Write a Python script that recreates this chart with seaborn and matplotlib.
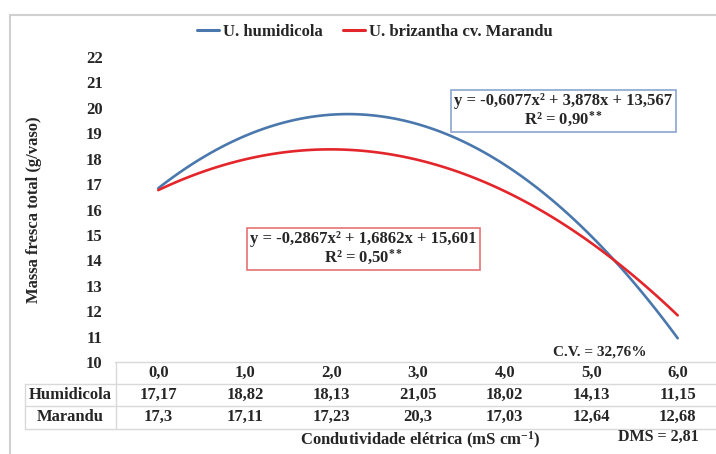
import matplotlib
matplotlib.use("Agg")
import matplotlib.pyplot as plt
import matplotlib.transforms as mtransforms
from matplotlib.lines import Line2D
import seaborn as sns
import numpy as np
import pandas as pd

# ---- data ----
conductivity = [0, 1, 2, 3, 4, 5, 6]
cond_labels = ["0,0", "1,0", "2,0", "3,0", "4,0", "5,0", "6,0"]
humidicola = [17.17, 18.82, 18.13, 21.05, 18.02, 14.13, 11.15]
marandu = [17.3, 17.11, 17.23, 20.3, 17.03, 12.64, 12.68]
humidicola_txt = ["17,17", "18,82", "18,13", "21,05", "18,02", "14,13", "11,15"]
marandu_txt = ["17,3", "17,11", "17,23", "20,3", "17,03", "12,64", "12,68"]
row_names = ["Humidicola", "Marandu"]
series_names = ["U. humidicola", "U. brizantha cv. Marandu"]
eq_humid = "y = -0,6077x² + 3,878x + 13,567\nR² = 0,90$^{**}$"
eq_marandu = "y = -0,2867x² + 1,6862x + 15,601\nR² = 0,50$^{**}$"
yticks = list(range(10, 23))

df = pd.DataFrame({"x": conductivity, "hum": humidicola, "mar": marandu})

sns.set_style("white")
plt.rcParams["font.family"] = ["Liberation Serif", "DejaVu Serif"]
plt.rcParams["font.weight"] = "bold"
plt.rcParams["mathtext.fontset"] = "custom"
plt.rcParams["mathtext.rm"] = "Liberation Serif:bold"
plt.rcParams["mathtext.it"] = "Liberation Serif:bold"
plt.rcParams["mathtext.bf"] = "Liberation Serif:bold"
plt.rcParams["mathtext.default"] = "rm"

W, H = 716, 454
fig = plt.figure(figsize=(W / 100, H / 100), dpi=100)
fig.patch.set_facecolor("white")

def fx(px):
    return px / W

def fy(py):
    return 1 - py / H

ax = fig.add_axes([fx(115), fy(362), fx(606), fy(57) - fy(362)])
ax.set_facecolor("white")

blue = "#4a78ad"
red = "#e3262b"

sns.regplot(data=df, x="x", y="hum", order=2, ci=None, scatter=False,
            truncate=True, color=blue, line_kws={"lw": 1.9}, ax=ax)
sns.regplot(data=df, x="x", y="mar", order=2, ci=None, scatter=False,
            truncate=True, color=red, line_kws={"lw": 1.9}, ax=ax)

ax.set_xlim(-0.5, 6.5)
ax.set_ylim(10, 22)
ax.set_yticks(yticks)
ax.set_yticklabels([str(v) for v in yticks], fontsize=12, fontweight="bold")
ax.set_xticks([])
ax.set_xlabel("")
ax.set_ylabel("")
ax.tick_params(axis="y", length=0, pad=9)
for s in ["top", "right", "left"]:
    ax.spines[s].set_visible(False)
ax.spines["bottom"].set_color("#d9d9d9")
ax.spines["bottom"].set_linewidth(1.0)

# legend
handles = [Line2D([0], [0], color=blue, lw=2.2), Line2D([0], [0], color=red, lw=2.2)]
fig.legend(handles, series_names, loc="center", bbox_to_anchor=(fx(375), fy(32)),
           ncol=2, frameon=False, handlelength=1.3, handletextpad=0.25,
           columnspacing=1.2, prop={"weight": "bold", "size": 12})

# y label
fig.text(fx(34), fy(210), "Massa fresca total (g/vaso)", rotation=90,
         ha="center", va="center", fontsize=12, fontweight="bold")

# equation boxes
ax.text(4.68, 19.89, eq_humid, ha="center", va="center", fontsize=12,
        fontweight="bold", linespacing=1.05,
        bbox=dict(boxstyle="square,pad=0.18", fc="white", ec="#8aa6d0", lw=1.2))
ax.text(2.37, 14.45, eq_marandu, ha="center", va="center", fontsize=12,
        fontweight="bold", linespacing=1.05,
        bbox=dict(boxstyle="square,pad=0.18", fc="white", ec="#e57373", lw=1.2))

# C.V.
fig.text(fx(600), fy(352), "C.V. = 32,76%", ha="center", va="center",
         fontsize=11, fontweight="bold")

# data table
trans = mtransforms.blended_transform_factory(ax.transData, fig.transFigure)
for xv, lab in zip(conductivity, cond_labels):
    ax.text(xv, fy(373), lab, transform=trans, ha="center", va="center",
            fontsize=12, fontweight="bold", clip_on=False)
for xv, t in zip(conductivity, humidicola_txt):
    ax.text(xv, fy(395), t, transform=trans, ha="center", va="center",
            fontsize=12, fontweight="bold", clip_on=False)
for xv, t in zip(conductivity, marandu_txt):
    ax.text(xv, fy(417), t, transform=trans, ha="center", va="center",
            fontsize=12, fontweight="bold", clip_on=False)
fig.text(fx(70), fy(395), row_names[0], ha="center", va="center",
         fontsize=12, fontweight="bold")
fig.text(fx(70), fy(417), row_names[1], ha="center", va="center",
         fontsize=12, fontweight="bold")

grid_c = "#d9d9d9"
for py in [384, 406, 428.5]:
    fig.add_artist(Line2D([fx(25), 1.0], [fy(py), fy(py)], color=grid_c, lw=1.0))
fig.add_artist(Line2D([fx(25), fx(25)], [fy(384), fy(428.5)], color=grid_c, lw=1.0))
fig.add_artist(Line2D([fx(116), fx(116)], [fy(362), fy(428.5)], color=grid_c, lw=1.0))

# chart border
border_c = "#d0d0d0"
fig.add_artist(Line2D([fx(10), 1.0], [fy(15), fy(15)], color=border_c, lw=1.5))
fig.add_artist(Line2D([fx(10), fx(10)], [fy(15), 0.0], color=border_c, lw=1.5))

# axis title and DMS
fig.text(fx(420), fy(440), "Condutividade elétrica (mS cm$^{-1}$)", ha="center",
         va="center", fontsize=12, fontweight="bold")
fig.text(fx(658), fy(437), "DMS = 2,81", ha="center", va="center",
         fontsize=11.5, fontweight="bold")

fig.savefig("out.png", dpi=100, facecolor="white")
